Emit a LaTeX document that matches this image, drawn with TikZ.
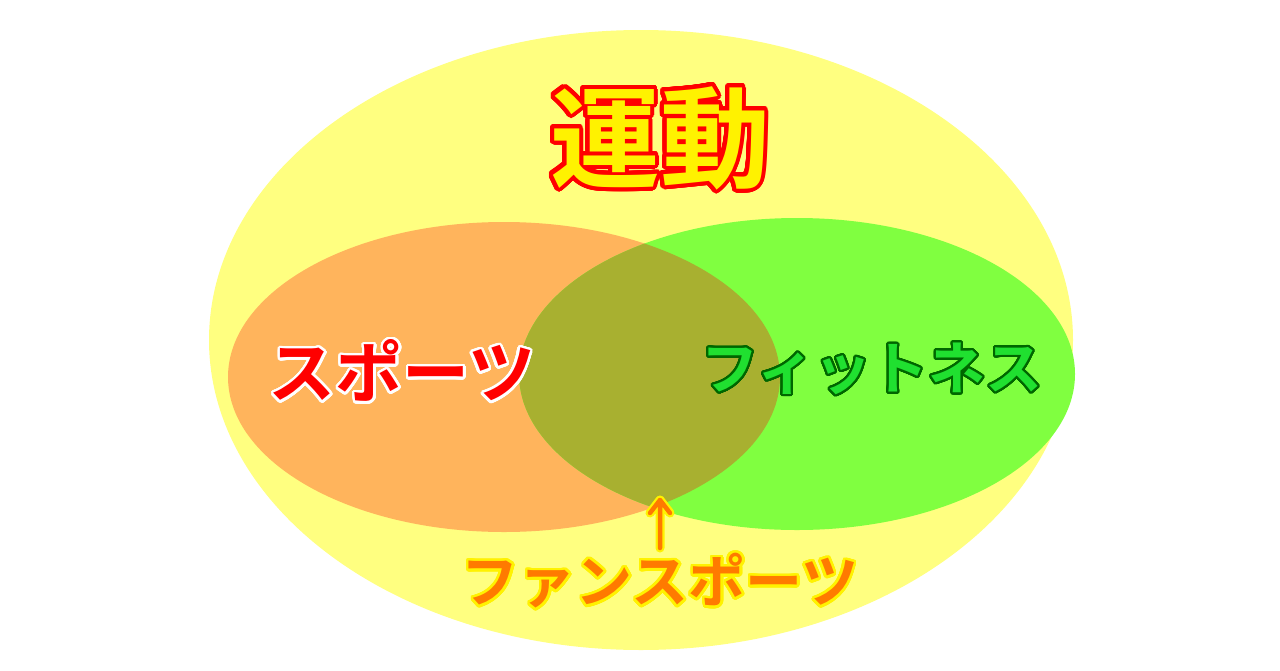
\documentclass[tikz,border=0pt]{standalone}
\usepackage{fontspec}
\usepackage[copies]{contour}
\contournumber{48}
\newfontfamily\jp{Noto Sans CJK JP Bold}
\definecolor{bgY}{HTML}{FFFF80}
\definecolor{orA}{HTML}{FFB45C}
\definecolor{grA}{HTML}{80FF40}
\definecolor{olA}{HTML}{A8B030}
\definecolor{txG}{HTML}{20E030}
\definecolor{txO}{HTML}{FF7A00}
\begin{document}
\begin{tikzpicture}[x=1pt,y=-1pt]
\useasboundingbox (0,0) rectangle (1280,670);
\fill[white] (0,0) rectangle (1280,670);
\fill[bgY] (641,340) ellipse [x radius=432, y radius=310];
\fill[orA] (504,377) ellipse [x radius=276, y radius=155];
\fill[grA] (797,374) ellipse [x radius=278, y radius=156];
\begin{scope}
\clip (504,377) ellipse [x radius=276, y radius=155];
\fill[olA] (797,374) ellipse [x radius=278, y radius=156];
\end{scope}
\contourlength{4pt}
\node (undo) at (660,140) {\jp\fontsize{110}{110}\selectfont\contour{red}{\textcolor{yellow}{運動}}};
\contourlength{2.5pt}
\node (sp) at (402,372) {\jp\fontsize{67}{67}\selectfont\contour{white}{\textcolor{red}{スポーツ}}};
\contourlength{2pt}
\node (fit) at (872,370) {\jp\fontsize{57}{57}\selectfont\contour{black!60!green}{\textcolor{txG}{フィットネス}}};
\contourlength{2.5pt}
\node (fan) at (660,582) {\jp\fontsize{57}{57}\selectfont\contour{yellow}{\textcolor{txO}{ファンスポーツ}}};
\coordinate (tip) at (660,500);
\coordinate (base) at (660,548);
\draw[yellow,line width=9pt,line cap=round,line join=round] (base) -- (tip) (tip) -- ++(-10,13) (tip) -- ++(10,13);
\draw[txO,line width=4.5pt,line cap=round,line join=round] (base) -- (tip) (tip) -- ++(-10,13) (tip) -- ++(10,13);
\end{tikzpicture}
\end{document}
